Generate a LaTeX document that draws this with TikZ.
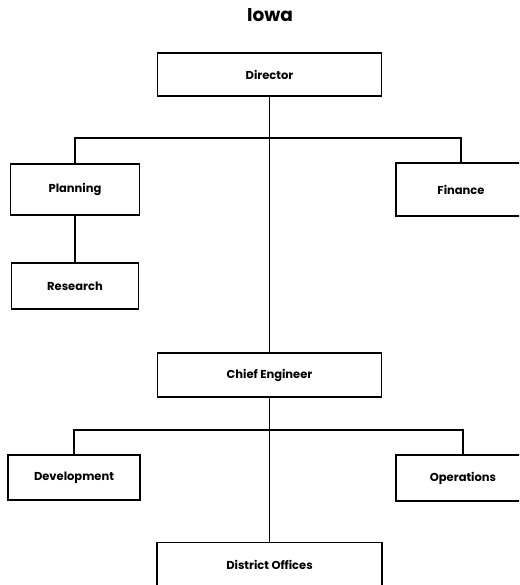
\documentclass[tikz,border=0pt]{standalone}
\usepackage{fontspec}
\setmainfont{Poppins}
\begin{document}
\begin{tikzpicture}[x=1pt,y=-1pt,
  unit/.style={draw, line width=1.8pt, rectangle, inner sep=0pt,
    font=\bfseries\fontsize{11.5}{13}\selectfont},
  link/.style={line width=1.7pt}]
\clip (0,0) rectangle (519,585);
\fill[white] (0,0) rectangle (519,585);

\node[font=\bfseries\fontsize{18.5}{21}\selectfont] (title) at (270,15) {Iowa};

% top level
\node[unit, minimum width=224pt, minimum height=43pt] (dir) at (269.5,74.5) {Director};
\node[unit, minimum width=129pt, minimum height=51pt] (plan) at (75,189.5) {Planning};
\node[unit, minimum width=130pt, minimum height=53pt] (fin) at (461,189.5) {Finance};
\node[unit, minimum width=127pt, minimum height=46pt] (res) at (75,286) {Research};

% engineering
\node[unit, minimum width=224pt, minimum height=44pt] (ce) at (269.5,375) {Chief Engineer};
\node[unit, minimum width=132pt, minimum height=45pt] (dev) at (74,477.5) {Development};
\node[unit, minimum width=134pt, minimum height=46pt] (ops) at (463,478) {Operations};
\node[unit, minimum width=225pt, minimum height=44pt] (dist) at (269.5,564.5) {District Offices};

% junctions on the horizontal bars
\coordinate (bar1) at (269.5,138);
\coordinate (bar2) at (269.5,430);

\draw[link] (dir.south) -- (ce.north);
\draw[link] (plan.north) |- (bar1) -| (fin.north);
\draw[link] (plan.south) -- (res.north);
\draw[link] (ce.south) -- (dist.north);
\draw[link] (dev.north) |- (bar2) -| (ops.north);
\end{tikzpicture}
\end{document}
